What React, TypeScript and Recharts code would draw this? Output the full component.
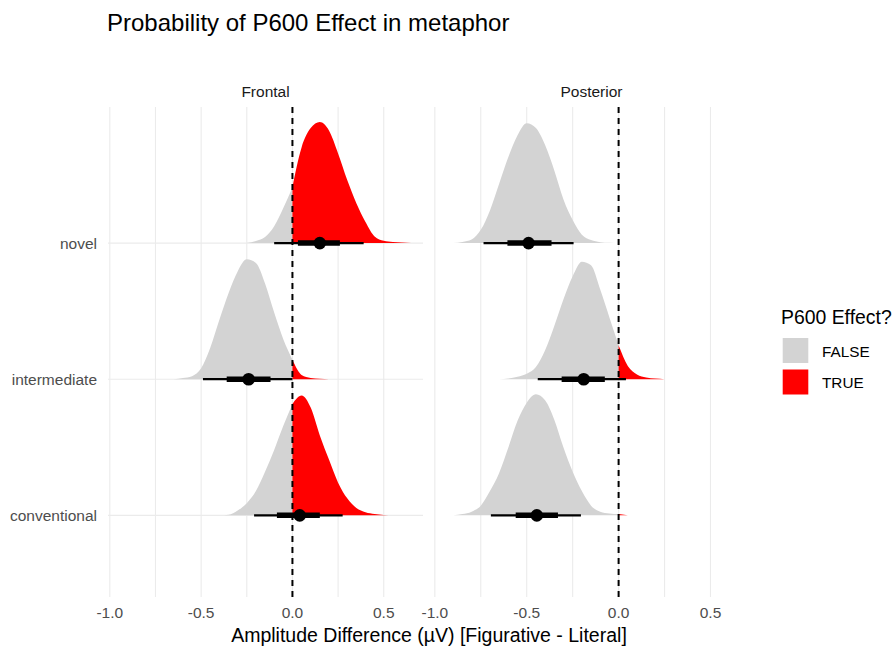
import React from "react";
import { ComposedChart, Area, XAxis, YAxis, CartesianGrid, ReferenceLine, ReferenceDot } from "recharts";

// rows from bottom to top
const categories = ["conventional", "intermediate", "novel"];
const effectLevels = ["FALSE", "TRUE"];
const xTicks = [-1, -0.75, -0.5, -0.25, 0, 0.25, 0.5];
const majorTicks = [-1, -0.5, 0, 0.5];

const xGrid = [
  -0.95, -0.9, -0.85, -0.8, -0.75, -0.7, -0.65, -0.6, -0.55, -0.5, -0.45, -0.4,
  -0.35, -0.3, -0.25, -0.2, -0.15, -0.1, -0.05, 0, 0.05, 0.1, 0.15, 0.2, 0.25,
  0.3, 0.35, 0.4, 0.45, 0.5, 0.55, 0.6, 0.65, 0.7,
];

// posterior densities, peak scaled to 1 (aligned with xGrid)
const frontalConventional = [
  null, null, null, null, null, null, null, null, null, null, null, 0, 0.005, 0.04,
  0.1, 0.2, 0.36, 0.54, 0.74, 0.92, 0.99, 0.89, 0.66, 0.46, 0.27, 0.14, 0.06, 0.025,
  0.01, 0.002, 0, null, null, null,
];
const frontalIntermediate = [
  null, null, null, null, null, null, 0, 0.01, 0.025, 0.09, 0.26, 0.49, 0.71, 0.89,
  0.99, 0.96, 0.79, 0.55, 0.33, 0.16, 0.035, 0.01, 0.003, 0, null, null, null, null,
  null, null, null, null, null, null,
];
const frontalNovel = [
  null, null, null, null, null, null, null, null, null, null, null, null, null, null,
  0, 0.017, 0.05, 0.14, 0.29, 0.46, 0.79, 0.95, 1.0, 0.93, 0.74, 0.52, 0.33, 0.175,
  0.055, 0.02, 0.01, 0.005, 0, null,
];
const posteriorConventional = [
  null, 0, 0.01, 0.03, 0.08, 0.2, 0.35, 0.56, 0.78, 0.93, 1.0, 0.95, 0.79, 0.56, 0.36,
  0.2, 0.08, 0.03, 0.015, 0.01, 0, null, null, null, null, null, null, null, null,
  null, null, null, null, null,
];
const posteriorIntermediate = [
  null, null, null, null, null, null, 0, 0.005, 0.02, 0.045, 0.1, 0.24, 0.44, 0.66,
  0.85, 0.97, 0.94, 0.74, 0.51, 0.28, 0.11, 0.04, 0.015, 0.005, 0, null, null, null,
  null, null, null, null, null, null,
];
const posteriorNovel = [
  null, 0, 0.01, 0.03, 0.11, 0.27, 0.49, 0.71, 0.89, 0.99, 0.95, 0.81, 0.6, 0.36,
  0.19, 0.07, 0.025, 0.008, 0.002, 0, null, null, null, null, null, null, null, null,
  null, null, null, null, null, null,
];

// point + 66% / 95% intervals (conventional, intermediate, novel)
const frontalMedian = [0.04, -0.24, 0.15];
const frontalLo66 = [-0.085, -0.36, 0.03];
const frontalHi66 = [0.15, -0.12, 0.26];
const frontalLo95 = [-0.21, -0.49, -0.1];
const frontalHi95 = [0.275, 0.0, 0.39];

const posteriorMedian = [-0.445, -0.19, -0.49];
const posteriorLo66 = [-0.56, -0.31, -0.605];
const posteriorHi66 = [-0.33, -0.075, -0.365];
const posteriorLo95 = [-0.695, -0.44, -0.735];
const posteriorHi95 = [-0.205, 0.04, -0.245];

const SCALE = 0.89;
const GREY = "#d3d3d3";
const RED = "#ff0000";
const FONT = '"Liberation Sans", Arial, Helvetica, sans-serif';

type Margin = { top: number; right: number; bottom: number; left: number };

interface FacetProps {
  dens: (number | null)[][];
  median: number[];
  lo66: number[];
  hi66: number[];
  lo95: number[];
  hi95: number[];
  showY: boolean;
  width: number;
  margin: Margin;
}

function Facet({ dens, median, lo66, hi66, lo95, hi95, showY, width, margin }: FacetProps) {
  const data = xGrid.map((x, i) => {
    const row: Record<string, number | null> = { x };
    dens.forEach((d, r) => {
      row["d" + r] = d[i];
    });
    return row;
  });

  // split each density at zero: grey for x <= 0, red for x >= 0
  const side = (r: number, positive: boolean) => (p: any) => {
    const v = p["d" + r];
    if (v == null) return null;
    if (positive ? p.x < 0 : p.x > 0) return null;
    return [r + 1, r + 1 + v * SCALE];
  };

  return (
    <ComposedChart width={width} height={648} data={data} margin={margin}>
      <CartesianGrid stroke="#ebebeb" strokeWidth={1.1} syncWithTicks />
      <XAxis
        type="number"
        dataKey="x"
        domain={[-1.01, 0.715]}
        ticks={xTicks}
        interval={0}
        tickFormatter={(v: number) => (majorTicks.includes(v) ? v.toFixed(1) : "")}
        axisLine={false}
        tickLine={false}
        tickMargin={4}
        height={30}
        tick={{ fill: "#4d4d4d", fontSize: 15.5, fontFamily: FONT }}
        allowDataOverflow
      />
      <YAxis
        type="number"
        domain={[0.4, 4]}
        ticks={[1, 2, 3]}
        interval={0}
        tickFormatter={(v: number) => (showY ? categories[v - 1] : "")}
        axisLine={false}
        tickLine={false}
        tick={showY ? { fill: "#4d4d4d", fontSize: 15.5, fontFamily: FONT } : false}
        tickMargin={5}
        width={showY ? 108 : 0}
        allowDataOverflow
      />
      {categories.map((c, r) => (
        <Area
          key={"neg-" + c}
          dataKey={side(r, false)}
          type="monotone"
          stroke="none"
          fill={GREY}
          fillOpacity={1}
          dot={false}
          activeDot={false}
          isAnimationActive={false}
        />
      ))}
      {categories.map((c, r) => (
        <Area
          key={"pos-" + c}
          dataKey={side(r, true)}
          type="monotone"
          stroke="none"
          fill={RED}
          fillOpacity={1}
          dot={false}
          activeDot={false}
          isAnimationActive={false}
        />
      ))}
      <ReferenceLine x={0} stroke="#000" strokeWidth={2} strokeDasharray="6 5" />
      {categories.map((c, r) => (
        <ReferenceLine
          key={"q95-" + c}
          segment={[{ x: lo95[r], y: r + 1 }, { x: hi95[r], y: r + 1 }]}
          stroke="#000"
          strokeWidth={2.3}
        />
      ))}
      {categories.map((c, r) => (
        <ReferenceLine
          key={"q66-" + c}
          segment={[{ x: lo66[r], y: r + 1 }, { x: hi66[r], y: r + 1 }]}
          stroke="#000"
          strokeWidth={5.5}
        />
      ))}
      {categories.map((c, r) => (
        <ReferenceDot key={"pt-" + c} x={median[r]} y={r + 1} r={6.3} fill="#000" stroke="none" />
      ))}
    </ComposedChart>
  );
}

export default function App() {
  return (
    <div style={{ position: "absolute", left: 0, top: 0, width: 893, height: 648, background: "#fff", fontFamily: FONT }}>
      <div style={{ position: "absolute", left: 0, top: 0 }}>
        <Facet
          dens={[frontalConventional, frontalIntermediate, frontalNovel]}
          median={frontalMedian}
          lo66={frontalLo66}
          hi66={frontalHi66}
          lo95={frontalLo95}
          hi95={frontalHi95}
          showY
          width={440}
          margin={{ top: 107, right: 17, bottom: 21, left: 0 }}
        />
      </div>
      <div style={{ position: "absolute", left: 395, top: 0 }}>
        <Facet
          dens={[posteriorConventional, posteriorIntermediate, posteriorNovel]}
          median={posteriorMedian}
          lo66={posteriorLo66}
          hi66={posteriorHi66}
          lo95={posteriorLo95}
          hi95={posteriorHi95}
          showY={false}
          width={370}
          margin={{ top: 107, right: 15, bottom: 21, left: 38 }}
        />
      </div>
      <svg width={893} height={648} style={{ position: "absolute", left: 0, top: 0, pointerEvents: "none" }}>
        <text x={107} y={31} fontSize={24} fill="#000" fontFamily={FONT}>
          Probability of P600 Effect in metaphor
        </text>
        <text x={265.5} y={97} fontSize={15.5} fill="#1a1a1a" textAnchor="middle" fontFamily={FONT}>
          Frontal
        </text>
        <text x={591.5} y={97} fontSize={15.5} fill="#1a1a1a" textAnchor="middle" fontFamily={FONT}>
          Posterior
        </text>
        <text x={429} y={642} fontSize={19.5} fill="#000" textAnchor="middle" fontFamily={FONT}>
          Amplitude Difference (µV) [Figurative - Literal]
        </text>
        <text x={781} y={324} fontSize={19.4} fill="#000" fontFamily={FONT}>
          P600 Effect?
        </text>
        {effectLevels.map((lvl, i) => (
          <g key={lvl}>
            <rect x={782.7} y={338 + i * 31.5} width={25.6} height={25} fill={i === 0 ? GREY : RED} />
            <text x={822} y={357 + i * 31} fontSize={15.3} fill="#000" fontFamily={FONT}>
              {lvl}
            </text>
          </g>
        ))}
      </svg>
    </div>
  );
}
